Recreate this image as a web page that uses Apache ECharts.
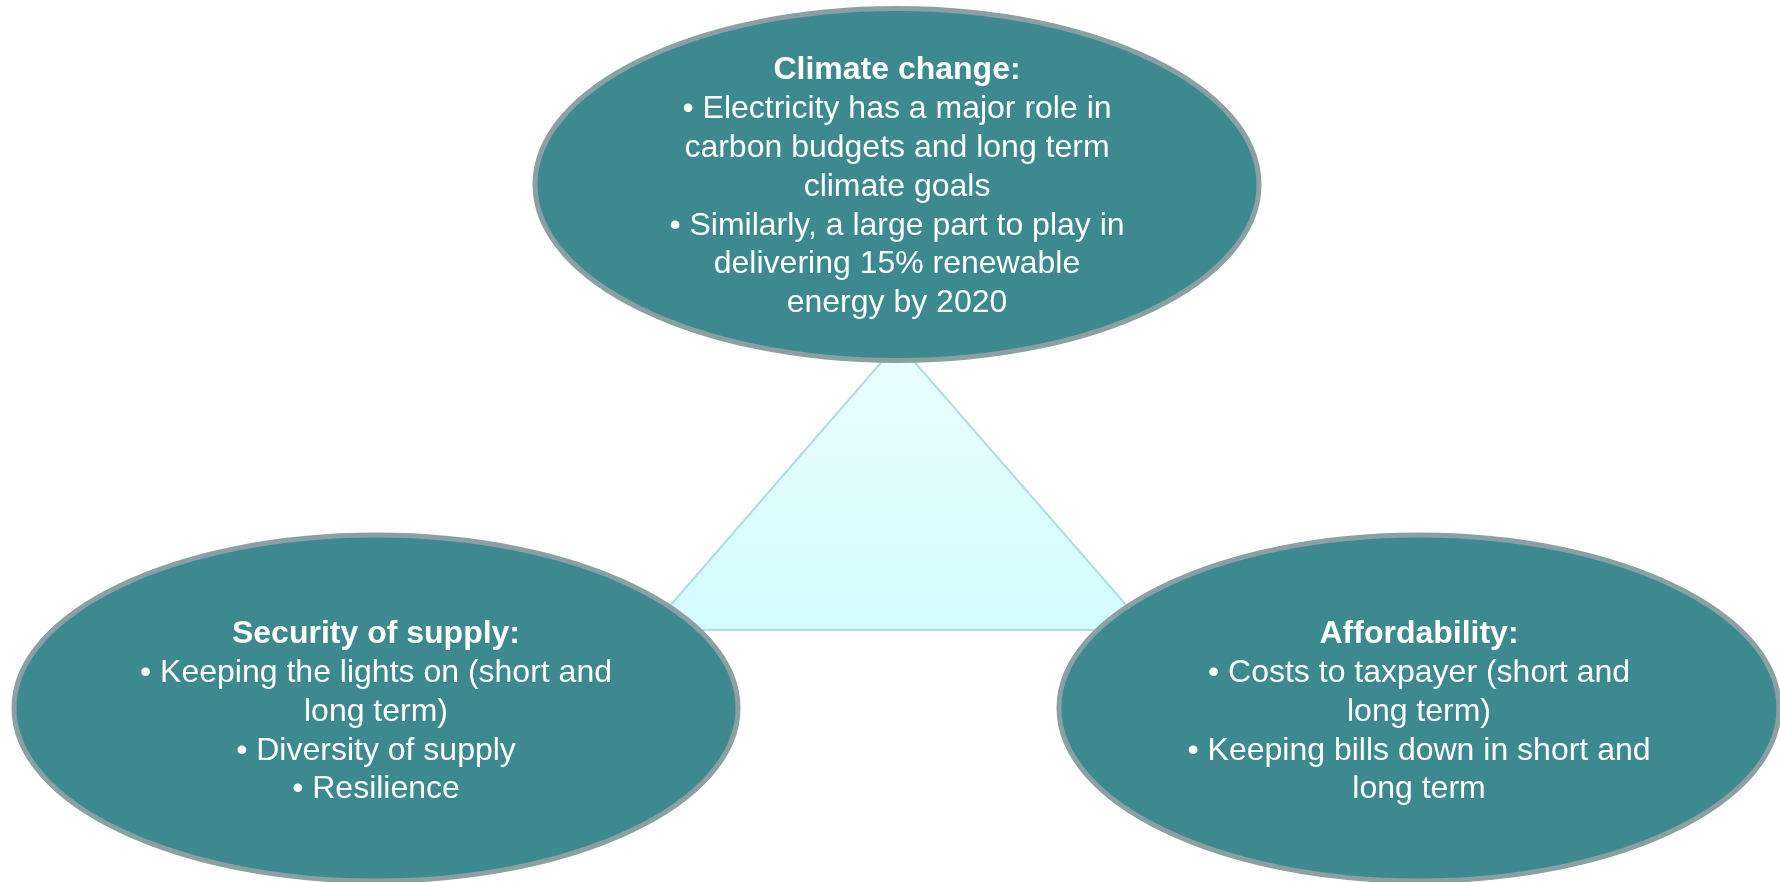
<!DOCTYPE html>
<html style="height: 100%; margin: 0;">

<head>
    <meta charset="utf-8" />
    <title></title>
    <script src="https://cdn.jsdelivr.net/npm/echarts@6/dist/echarts.min.js" type="text/javascript" charset="utf-8"></script>
</head>

<body style="height: 100%; margin: 0; background: #fff;">
<div id="main" style="width: 100%;height:100%; padding: 0px; margin: 0px;"></div>
<script type="text/javascript">
// three themes, placed on a canvas-sized value plane (y grows downward)
var nodeTitles = ['Climate change:', 'Security of supply:', 'Affordability:'];
var nodeLines = [
    ['\u2022 Electricity has a major role in', 'carbon budgets and long term', 'climate goals',
     '\u2022 Similarly, a large part to play in', 'delivering 15% renewable', 'energy by 2020'],
    ['\u2022 Keeping the lights on (short and', 'long term)', '\u2022 Diversity of supply', '\u2022 Resilience'],
    ['\u2022 Costs to taxpayer (short and', 'long term)', '\u2022 Keeping bills down in short and', 'long term']
];
var nodeX = [897, 376, 1419];
var nodeY = [184.5, 708, 708];
var nodeRx = [362, 362, 360];
var nodeRy = [176, 173, 173];
// where the text block sits
var textY = [187, 712, 712];

// triangle behind the ellipses
var triX = [898, 649, 1148];
var triY = [343, 630, 630];

var myChart = echarts.init(document.getElementById('main'));

var nodeData = [];
for (var i = 0; i < nodeTitles.length; i++) {
    nodeData.push([nodeX[i], nodeY[i], nodeRx[i], nodeRy[i], textY[i]]);
}

myChart.setOption({
    animation: false,
    grid: { left: 0, right: 0, top: 0, bottom: 0 },
    xAxis: { type: 'value', min: 0, max: 1780, show: false },
    yAxis: { type: 'value', min: 0, max: 882, inverse: true, show: false },
    series: [{
        type: 'custom',
        silent: true,
        z: 1,
        data: [[triX[0], triY[0]]],
        renderItem: function (params, api) {
            var pts = [];
            for (var k = 0; k < triX.length; k++) {
                pts.push(api.coord([triX[k], triY[k]]));
            }
            return {
                type: 'polygon',
                shape: { points: pts },
                style: {
                    fill: new echarts.graphic.LinearGradient(0, 0, 0, 1, [
                        { offset: 0, color: '#EBFEFE' },
                        { offset: 1, color: '#D2FCFC' }
                    ]),
                    stroke: '#B2DDE0',
                    lineWidth: 2
                }
            };
        }
    }, {
        type: 'custom',
        silent: true,
        z: 2,
        data: nodeData,
        renderItem: function (params, api) {
            var idx = params.dataIndex;
            var c = api.coord([api.value(0), api.value(1)]);
            var s = api.size([api.value(2), api.value(3)]);
            var t = api.coord([api.value(0), api.value(4)]);
            var txt = '{t|' + nodeTitles[idx] + '}\n' + nodeLines[idx].join('\n');
            return {
                type: 'group',
                children: [{
                    type: 'ellipse',
                    shape: { cx: c[0], cy: c[1], rx: s[0], ry: s[1] },
                    style: { fill: '#3C8A90', stroke: '#8BA0A3', lineWidth: 5 }
                }, {
                    type: 'text',
                    style: {
                        text: txt,
                        x: t[0],
                        y: t[1],
                        align: 'center',
                        verticalAlign: 'middle',
                        fill: '#ffffff',
                        fontFamily: 'Liberation Sans, Arial, sans-serif',
                        fontSize: 32,
                        lineHeight: 38.8,
                        rich: {
                            t: {
                                fontWeight: 'bold',
                                fontFamily: 'Liberation Sans, Arial, sans-serif',
                                fontSize: 32,
                                lineHeight: 38.8,
                                fill: '#ffffff'
                            }
                        }
                    }
                }]
            };
        }
    }]
});

window.onresize = myChart.resize;
</script>
</body>

</html>
